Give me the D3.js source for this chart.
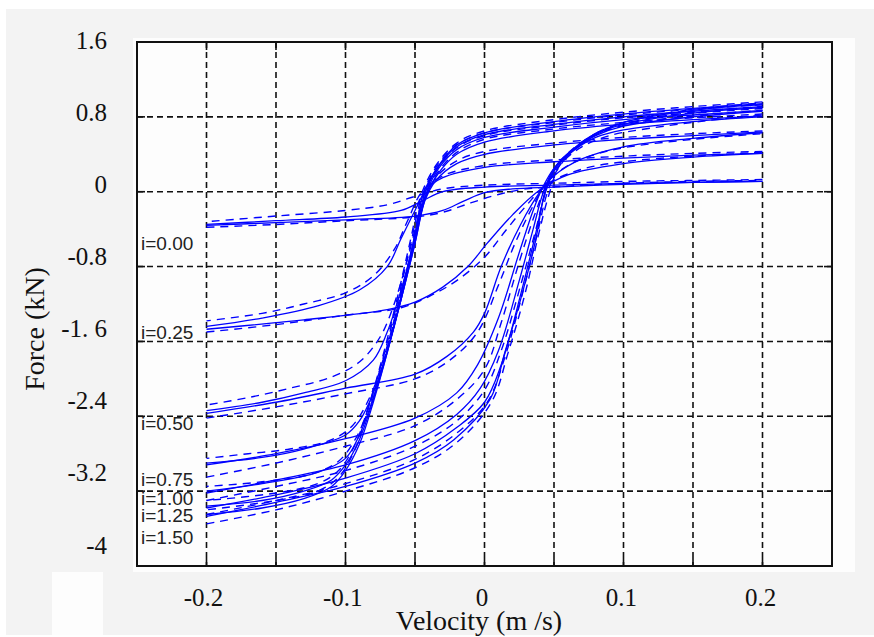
<!DOCTYPE html>
<meta charset="utf-8">
<style>
  body { margin: 0; background: #fff; }
  .axis-lab text { font: 25px "Liberation Serif", "Times New Roman", serif; fill: #111; }
  .title { font: 28px "Liberation Serif", "Times New Roman", serif; fill: #111; }
  .cur { font: 19px "Liberation Sans", Arial, sans-serif; fill: #222; }
</style>
<svg id="chart" width="874" height="637"></svg>
<script src="https://d3js.org/d3.v7.min.js"></script>
<script>
// tick values / labels
var xGridVals = [-0.2, -0.15, -0.1, -0.05, 0, 0.05, 0.1, 0.15, 0.2];
var xTickVals = [-0.2, -0.1, 0, 0.1, 0.2];
var xTickText = ["-0.2", "-0.1", "0", "0.1", "0.2"];
var yGridVals = [0.8, 0, -0.8, -1.6, -2.4, -3.2];
var yTickVals = [1.6, 0.8, 0, -0.8, -1.6, -2.4, -3.2, -4];
var yTickText = ["1.6", "0.8", "0", "-0.8", "-1. 6", "-2.4", "-3.2", "-4"];

// currents and where their labels sit (kN)
var currents = ["i=0.00", "i=0.25", "i=0.50", "i=0.75", "i=1.00", "i=1.25", "i=1.50"];
var labelForce = [-0.55, -1.5, -2.47, -3.07, -3.27, -3.46, -3.69];

// model loops: [velocity m/s, force kN], lower branch then upper branch
var lo000 = [[-0.2,-0.36],[-0.15,-0.33],[-0.1,-0.3],[-0.05,-0.26],[-0.03,-0.2],[-0.015,-0.1],[0,-0.01],[0.02,0.03],[0.05,0.05],[0.1,0.08],[0.15,0.1],[0.2,0.11]];
var up000 = [[0.2,0.11],[0.15,0.1],[0.1,0.09],[0.05,0.07],[0,0.05],[-0.03,0],[-0.045,-0.1],[-0.06,-0.2],[-0.1,-0.27],[-0.15,-0.31],[-0.2,-0.35]];
var lo025 = [[-0.2,-1.47],[-0.15,-1.4],[-0.13,-1.37],[-0.07,-1.26],[-0.05,-1.18],[-0.03,-1.02],[-0.012,-0.8],[0.002,-0.55],[0.02,-0.25],[0.04,0.02],[0.06,0.18],[0.1,0.3],[0.15,0.37],[0.2,0.41]];
var up025 = [[0.2,0.41],[0.15,0.39],[0.1,0.36],[0.05,0.32],[0,0.26],[-0.03,0.15],[-0.042,0.02],[-0.05,-0.2],[-0.06,-0.5],[-0.07,-0.8],[-0.09,-1.05],[-0.12,-1.22],[-0.16,-1.35],[-0.2,-1.44]];
var lo050 = [[-0.2,-2.37],[-0.15,-2.25],[-0.1,-2.1],[-0.05,-1.95],[-0.027,-1.76],[-0.008,-1.5],[0,-1.3],[0.012,-0.8],[0.026,-0.35],[0.04,0],[0.05,0.17],[0.07,0.35],[0.1,0.48],[0.15,0.57],[0.2,0.63]];
var up050 = [[0.2,0.64],[0.15,0.6],[0.1,0.56],[0.05,0.5],[0,0.4],[-0.02,0.3],[-0.035,0.12],[-0.043,-0.1],[-0.05,-0.5],[-0.06,-1.05],[-0.07,-1.5],[-0.08,-1.8],[-0.1,-2.02],[-0.13,-2.15],[-0.16,-2.25],[-0.2,-2.34]];
var lo075 = [[-0.2,-2.92],[-0.15,-2.8],[-0.1,-2.64],[-0.05,-2.42],[-0.02,-2.15],[-0.005,-1.85],[0.01,-1.35],[0.025,-0.65],[0.035,-0.2],[0.042,0.05],[0.05,0.25],[0.065,0.45],[0.08,0.58],[0.1,0.66],[0.15,0.75],[0.2,0.8]];
var up075 = [[0.2,0.81],[0.15,0.77],[0.1,0.72],[0.05,0.65],[0,0.53],[-0.02,0.4],[-0.033,0.2],[-0.042,-0.05],[-0.05,-0.55],[-0.06,-1.15],[-0.07,-1.7],[-0.08,-2.15],[-0.09,-2.45],[-0.1,-2.6],[-0.13,-2.75],[-0.16,-2.84],[-0.2,-2.9]];
var lo100 = [[-0.2,-3.22],[-0.15,-3.08],[-0.1,-2.92],[-0.05,-2.66],[-0.02,-2.38],[-0.003,-2.1],[0.01,-1.7],[0.025,-0.95],[0.035,-0.4],[0.042,-0.02],[0.05,0.25],[0.065,0.47],[0.08,0.6],[0.1,0.7],[0.15,0.8],[0.2,0.86]];
var up100 = [[0.2,0.87],[0.15,0.82],[0.1,0.77],[0.05,0.69],[0,0.58],[-0.02,0.45],[-0.033,0.25],[-0.042,-0.02],[-0.05,-0.55],[-0.06,-1.15],[-0.07,-1.7],[-0.08,-2.2],[-0.09,-2.6],[-0.1,-2.85],[-0.12,-3.0],[-0.16,-3.12],[-0.2,-3.2]];
var lo125 = [[-0.2,-3.38],[-0.15,-3.24],[-0.1,-3.06],[-0.05,-2.8],[-0.02,-2.52],[0,-2.25],[0.012,-1.85],[0.026,-1.1],[0.036,-0.5],[0.043,-0.05],[0.05,0.22],[0.065,0.47],[0.08,0.62],[0.1,0.72],[0.15,0.84],[0.2,0.9]];
var up125 = [[0.2,0.91],[0.15,0.86],[0.1,0.8],[0.05,0.72],[0,0.61],[-0.02,0.48],[-0.033,0.27],[-0.043,-0.02],[-0.05,-0.5],[-0.06,-1.15],[-0.07,-1.72],[-0.08,-2.22],[-0.09,-2.65],[-0.1,-2.92],[-0.11,-3.08],[-0.13,-3.2],[-0.16,-3.3],[-0.2,-3.36]];
var lo150 = [[-0.2,-3.47],[-0.15,-3.32],[-0.1,-3.15],[-0.05,-2.9],[-0.022,-2.65],[0.004,-2.22],[0.015,-1.7],[0.026,-1.15],[0.037,-0.5],[0.042,-0.09],[0.046,0.12],[0.055,0.34],[0.069,0.5],[0.083,0.63],[0.1,0.74],[0.15,0.87],[0.2,0.93]];
var up150 = [[0.2,0.94],[0.15,0.89],[0.1,0.83],[0.05,0.75],[0,0.63],[-0.02,0.5],[-0.033,0.28],[-0.044,-0.02],[-0.05,-0.45],[-0.06,-1.12],[-0.07,-1.72],[-0.08,-2.25],[-0.09,-2.7],[-0.1,-2.98],[-0.11,-3.15],[-0.13,-3.28],[-0.16,-3.38],[-0.2,-3.45]];

// measured loops (dashed)
var mLo000 = [[-0.2,-0.38],[-0.15,-0.35],[-0.1,-0.31],[-0.05,-0.27],[-0.03,-0.22],[-0.01,-0.12],[0.01,-0.03],[0.03,0.03],[0.06,0.06],[0.1,0.09],[0.15,0.11],[0.2,0.12]];
var mUp000 = [[0.2,0.13],[0.15,0.12],[0.1,0.11],[0.05,0.09],[0,0.07],[-0.03,0.03],[-0.05,-0.05],[-0.07,-0.14],[-0.1,-0.2],[-0.15,-0.26],[-0.2,-0.32]];
var mLo025 = [[-0.2,-1.5],[-0.15,-1.42],[-0.1,-1.32],[-0.06,-1.24],[-0.04,-1.12],[-0.02,-0.95],[0,-0.7],[0.015,-0.42],[0.03,-0.15],[0.045,0.08],[0.07,0.24],[0.1,0.32],[0.15,0.38],[0.2,0.42]];
var mUp025 = [[0.2,0.43],[0.15,0.41],[0.1,0.38],[0.05,0.34],[0,0.28],[-0.03,0.17],[-0.045,0],[-0.055,-0.3],[-0.065,-0.62],[-0.08,-0.9],[-0.1,-1.08],[-0.13,-1.2],[-0.16,-1.3],[-0.2,-1.38]];
var mLo050 = [[-0.2,-2.42],[-0.15,-2.3],[-0.1,-2.16],[-0.05,-2.0],[-0.025,-1.8],[-0.005,-1.5],[0.01,-1.0],[0.022,-0.55],[0.035,-0.15],[0.045,0.1],[0.06,0.28],[0.08,0.4],[0.1,0.47],[0.15,0.56],[0.2,0.62]];
var mUp050 = [[0.2,0.65],[0.15,0.62],[0.1,0.58],[0.05,0.52],[0,0.43],[-0.02,0.33],[-0.035,0.15],[-0.045,-0.15],[-0.055,-0.7],[-0.065,-1.2],[-0.075,-1.55],[-0.09,-1.82],[-0.11,-1.98],[-0.14,-2.1],[-0.17,-2.2],[-0.2,-2.28]];
var mLo075 = [[-0.2,-3.05],[-0.15,-2.9],[-0.1,-2.72],[-0.05,-2.5],[-0.02,-2.22],[0,-1.9],[0.012,-1.4],[0.025,-0.75],[0.036,-0.25],[0.044,0.05],[0.055,0.3],[0.07,0.48],[0.09,0.6],[0.12,0.68],[0.16,0.76],[0.2,0.82]];
var mUp075 = [[0.2,0.83],[0.15,0.79],[0.1,0.74],[0.05,0.67],[0,0.56],[-0.02,0.42],[-0.034,0.2],[-0.044,-0.1],[-0.052,-0.6],[-0.062,-1.2],[-0.072,-1.75],[-0.082,-2.18],[-0.095,-2.5],[-0.11,-2.65],[-0.14,-2.75],[-0.17,-2.8],[-0.2,-2.85]];
var mLo100 = [[-0.2,-3.3],[-0.15,-3.15],[-0.1,-2.98],[-0.05,-2.72],[-0.02,-2.45],[0,-2.12],[0.012,-1.7],[0.026,-1.0],[0.037,-0.4],[0.044,0],[0.052,0.27],[0.067,0.5],[0.085,0.64],[0.11,0.74],[0.15,0.81],[0.2,0.87]];
var mUp100 = [[0.2,0.89],[0.15,0.84],[0.1,0.79],[0.05,0.71],[0,0.6],[-0.02,0.47],[-0.034,0.25],[-0.044,-0.05],[-0.052,-0.6],[-0.062,-1.2],[-0.072,-1.78],[-0.082,-2.25],[-0.092,-2.62],[-0.105,-2.88],[-0.125,-3.02],[-0.16,-3.1],[-0.2,-3.15]];
var mLo125 = [[-0.2,-3.45],[-0.15,-3.3],[-0.1,-3.12],[-0.05,-2.86],[-0.02,-2.58],[0.002,-2.25],[0.014,-1.8],[0.028,-1.05],[0.038,-0.45],[0.045,-0.02],[0.053,0.25],[0.068,0.5],[0.085,0.66],[0.11,0.76],[0.15,0.85],[0.2,0.91]];
var mUp125 = [[0.2,0.93],[0.15,0.88],[0.1,0.82],[0.05,0.74],[0,0.63],[-0.02,0.5],[-0.034,0.28],[-0.045,-0.05],[-0.053,-0.55],[-0.063,-1.2],[-0.073,-1.78],[-0.083,-2.27],[-0.093,-2.7],[-0.105,-2.98],[-0.12,-3.12],[-0.15,-3.22],[-0.2,-3.3]];
var mLo150 = [[-0.2,-3.55],[-0.15,-3.4],[-0.1,-3.2],[-0.05,-2.95],[-0.02,-2.68],[0.005,-2.25],[0.017,-1.72],[0.029,-1.1],[0.039,-0.45],[0.046,-0.05],[0.054,0.28],[0.07,0.52],[0.085,0.66],[0.11,0.78],[0.15,0.88],[0.2,0.95]];
var mUp150 = [[0.2,0.96],[0.15,0.91],[0.1,0.85],[0.05,0.77],[0,0.65],[-0.02,0.52],[-0.035,0.28],[-0.046,-0.05],[-0.053,-0.5],[-0.063,-1.15],[-0.073,-1.75],[-0.083,-2.28],[-0.093,-2.75],[-0.105,-3.05],[-0.12,-3.2],[-0.15,-3.3],[-0.2,-3.4]];

var modelBranches = [lo000, up000, lo025, up025, lo050, up050, lo075, up075, lo100, up100, lo125, up125, lo150, up150];
var measBranches = [mLo000, mUp000, mLo025, mUp025, mLo050, mUp050, mLo075, mUp075, mLo100, mUp100, mLo125, mUp125, mLo150, mUp150];

var svg = d3.select("#chart");

// page background pieces
svg.append("rect").attr("x", 6).attr("y", 9).attr("width", 868).attr("height", 626).attr("fill", "#f3f3f3");
svg.append("rect").attr("x", 133).attr("y", 38).attr("width", 722).attr("height", 534).attr("fill", "#fdfdfd");
svg.append("rect").attr("x", 52).attr("y", 572).attr("width", 51).attr("height", 63).attr("fill", "#fdfdfd");

var x = d3.scaleLinear().domain([-0.25, 0.25]).range([137, 832]);
var y = d3.scaleLinear().domain([-4, 1.6]).range([566, 42]);
// tick labels in the picture drift a little from the grid
var xLab = d3.scaleLinear().domain([-0.2, 0.2]).range([203, 760]);
var yLab = d3.scaleLinear().domain([1.6, -4]).range([40, 545]);

// grid
var grid = svg.append("g").attr("stroke", "#111").attr("stroke-width", 1.6).attr("stroke-dasharray", "6,4");
grid.selectAll(".gx").data(xGridVals).enter().append("line")
    .attr("x1", function(d) { return x(d); }).attr("x2", function(d) { return x(d); })
    .attr("y1", y(1.6)).attr("y2", y(-4));
grid.selectAll(".gy").data(yGridVals).enter().append("line")
    .attr("y1", function(d) { return y(d); }).attr("y2", function(d) { return y(d); })
    .attr("x1", x(-0.25)).attr("x2", x(0.25));

// short solid ticks on the frame
var ticks = svg.append("g").attr("stroke", "#111").attr("stroke-width", 1.6);
xGridVals.forEach(function(v) {
  ticks.append("line").attr("x1", x(v)).attr("x2", x(v)).attr("y1", y(-4)).attr("y2", y(-4) - 8);
  ticks.append("line").attr("x1", x(v)).attr("x2", x(v)).attr("y1", y(1.6)).attr("y2", y(1.6) + 8);
});
yGridVals.forEach(function(v) {
  ticks.append("line").attr("y1", y(v)).attr("y2", y(v)).attr("x1", x(-0.25)).attr("x2", x(-0.25) + 8);
  ticks.append("line").attr("y1", y(v)).attr("y2", y(v)).attr("x1", x(0.25)).attr("x2", x(0.25) - 8);
});

svg.append("clipPath").attr("id", "clip").append("rect")
    .attr("x", x(-0.25)).attr("y", y(1.6))
    .attr("width", x(0.25) - x(-0.25)).attr("height", y(-4) - y(1.6));

var line = d3.line()
    .x(function(d) { return x(d[0]); })
    .y(function(d) { return y(d[1]); })
    .curve(d3.curveCatmullRom.alpha(0.5));

var curves = svg.append("g").attr("clip-path", "url(#clip)")
    .attr("fill", "none").attr("stroke", "#0000ff").attr("stroke-linejoin", "round");

curves.selectAll(".meas").data(measBranches).enter().append("path")
    .attr("class", "meas")
    .attr("stroke-width", 1.4)
    .attr("stroke-dasharray", "8,6")
    .attr("d", line);

curves.selectAll(".model").data(modelBranches).enter().append("path")
    .attr("class", "model")
    .attr("stroke-width", 1.3)
    .attr("d", line);

// current labels
svg.append("g").selectAll("text").data(currents).enter().append("text")
    .attr("class", "cur")
    .attr("x", x(-0.25) + 4)
    .attr("y", function(d, i) { return y(labelForce[i]); })
    .attr("dy", "0.36em")
    .text(function(d) { return d; });

// frame
svg.append("rect")
    .attr("x", x(-0.25)).attr("y", y(1.6))
    .attr("width", x(0.25) - x(-0.25)).attr("height", y(-4) - y(1.6))
    .attr("fill", "none").attr("stroke", "#111").attr("stroke-width", 2);

// axis labels
svg.append("g").attr("class", "axis-lab")
    .attr("transform", "translate(107,0)")
    .call(d3.axisLeft(yLab).tickValues(yTickVals).tickSize(0).tickPadding(0)
      .tickFormat(function(d, i) { return yTickText[i]; }))
    .call(function(g) { g.select(".domain").remove(); });

svg.append("g").attr("class", "axis-lab")
    .attr("transform", "translate(0,588)")
    .call(d3.axisBottom(xLab).tickValues(xTickVals).tickSize(0).tickPadding(0)
      .tickFormat(function(d, i) { return xTickText[i]; }))
    .call(function(g) { g.select(".domain").remove(); });

svg.selectAll(".axis-lab text").attr("font-family", null).attr("font-size", null);

svg.append("text").attr("class", "title")
    .attr("x", 479).attr("y", 630)
    .attr("text-anchor", "middle")
    .text("Velocity (m /s)");

svg.append("text").attr("class", "title")
    .attr("transform", "translate(44,329) rotate(-90)")
    .attr("text-anchor", "middle")
    .text("Force (kN)");
</script>
